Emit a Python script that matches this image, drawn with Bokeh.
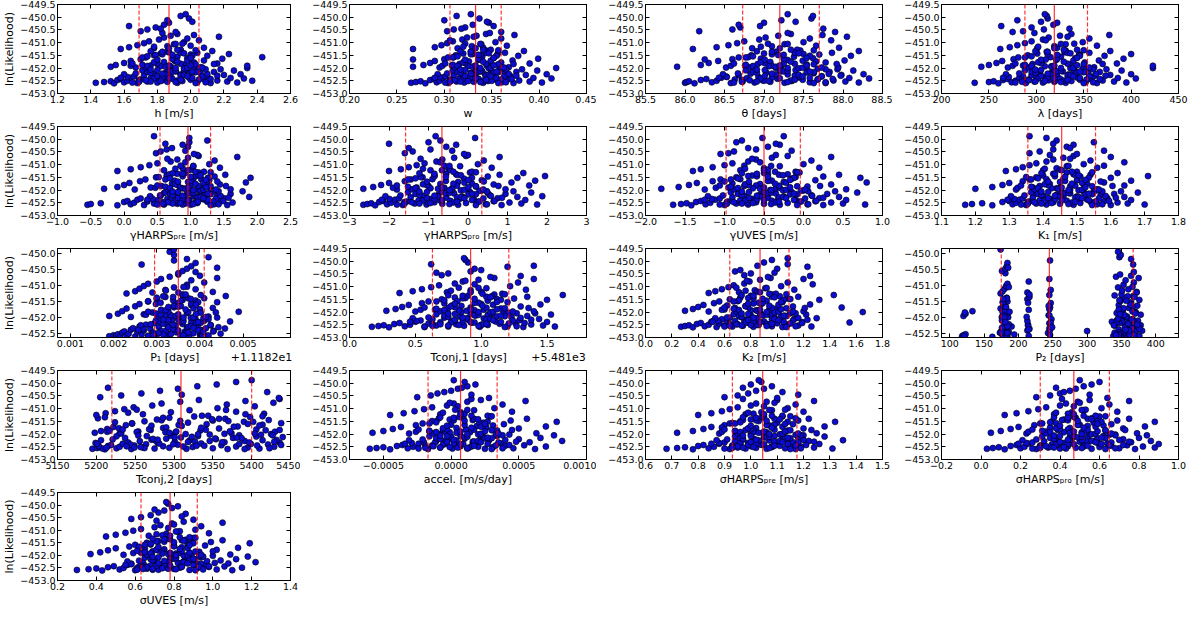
from bokeh.plotting import figure
from bokeh.layouts import column, row
from bokeh.models import (FixedTicker, CustomJSTickFormatter, Span, LinearAxis, Range1d)
from bokeh.embed import file_html
from bokeh.resources import INLINE

# ---------------- data (one shared ln(L) per MCMC sample) ----------------
lnL = [
    -452.58, -452.55, -452.52, -452.60, -452.47, -452.43, -452.56, -452.50, -452.38, -452.33,
    -452.59, -452.45, -452.28, -452.53, -452.40, -452.22, -452.57, -452.35, -452.48, -452.18,
    -452.54, -452.30, -452.42, -452.13, -452.58, -452.25, -452.51, -452.08, -452.37, -452.46,
    -452.02, -452.56, -452.20, -452.44, -452.32, -452.59, -452.15, -452.49, -452.05, -452.27,
    -452.53, -452.39, -452.10, -452.57, -452.24, -452.41, -452.00, -452.50, -452.34, -452.12,
    -451.95, -451.88, -451.80, -451.72, -451.98, -451.65, -451.58, -451.90, -451.50, -451.84,
    -451.43, -451.76, -451.36, -451.93, -451.68, -451.55, -451.31, -451.86, -451.61, -451.47,
    -451.78, -451.40, -451.97, -451.70, -451.52, -451.33, -451.82, -451.63, -451.45, -451.91,
    -451.57, -451.38, -451.74, -451.49, -451.66,
    -451.25, -451.18, -451.10, -451.02, -450.95, -451.22, -450.88, -450.80, -451.14, -450.73,
    -451.06, -450.66, -451.28, -450.98, -450.84, -451.12, -450.70, -450.91, -451.20, -450.77,
    -450.62, -451.04,
    -450.55, -450.48, -450.40, -450.30, -450.22, -450.12, -450.05, -449.95, -449.88, -450.35,
    -450.58, -450.18, -450.45,
    -452.57, -452.49, -452.41, -452.33, -452.25, -452.17, -452.09, -452.01, -451.93, -451.85,
    -452.55, -452.47, -452.39, -452.31, -452.23, -452.15, -452.07, -451.99, -451.91, -451.83,
    -452.53, -452.45, -452.37, -452.29, -452.21, -452.13, -452.05, -451.97, -451.89, -451.81,
    -452.59, -452.51, -452.43, -452.35, -452.27, -452.19, -452.11, -452.03, -451.95, -451.87,
    -451.77, -451.71, -451.64, -451.58, -451.52, -451.46, -451.40, -451.34, -451.28, -451.22,
    -452.56, -452.48, -452.40, -452.32, -452.24, -452.16, -452.08, -452.00, -451.92, -451.84,
    -451.75, -451.67, -451.60, -451.54, -451.48, -451.42, -451.36, -451.30, -451.16, -451.05,
    -452.54, -452.46, -452.38, -452.30, -452.22, -452.14, -452.06, -451.98, -451.90, -451.82,
]

h_ms = [
    1.43, 1.48, 1.52, 1.54, 1.56, 1.58, 1.60, 1.62, 1.64, 1.66,
    1.68, 1.70, 1.72, 1.74, 1.76, 1.78, 1.80, 1.81, 1.83, 1.85,
    1.86, 1.88, 1.89, 1.91, 1.92, 1.94, 1.95, 1.97, 1.99, 2.00,
    2.02, 2.04, 2.06, 2.08, 2.10, 2.12, 2.14, 2.16, 2.18, 2.20,
    2.22, 2.24, 2.26, 2.28, 2.30, 2.32, 2.34, 2.37, 1.84, 1.96,
    1.52, 1.55, 1.60, 1.64, 1.67, 1.70, 1.73, 1.76, 1.78, 1.80,
    1.82, 1.84, 1.86, 1.88, 1.90, 1.92, 1.94, 1.96, 1.98, 2.00,
    2.02, 2.04, 2.06, 2.08, 2.10, 2.13, 2.16, 2.19, 2.23, 2.34,
    2.43, 1.87, 1.91, 1.79, 1.99,
    1.58, 1.63, 1.68, 1.72, 1.75, 1.78, 1.81, 1.84, 1.86, 1.88,
    1.90, 1.92, 1.94, 1.96, 1.98, 2.00, 2.02, 2.05, 2.08, 2.17,
    1.83, 1.95,
    1.70, 1.74, 1.79, 1.84, 1.87, 1.86, 1.99, 1.94, 1.97, 1.63, 1.91, 2.01, 1.82,
    1.65, 1.92, 1.78, 2.07, 1.85, 2.00, 1.71, 1.96, 1.82, 2.03,
    1.91, 1.69, 2.01, 1.80, 2.10, 1.74, 1.87, 1.98, 1.64, 1.94,
    1.76, 2.05, 1.83, 1.94, 1.67, 1.89, 2.09, 1.73, 2.00, 1.80,
    2.03, 1.82, 2.12, 1.62, 1.96, 1.76, 1.91, 2.05, 1.85, 1.71,
    1.78, 1.98, 1.89, 1.71, 2.01, 1.83, 1.94, 1.76, 1.92, 1.87,
    2.09, 1.73, 1.87, 1.98, 1.60, 2.03, 1.80, 1.91, 1.74, 2.14,
    1.92, 1.80, 2.00, 1.74, 1.89, 1.96, 1.83, 2.03, 1.78, 1.91,
    1.69, 1.94, 1.58, 2.16, 1.83, 2.01, 1.76, 2.07, 1.87, 1.65,
]
w_vals = [
    0.265, 0.270, 0.275, 0.280, 0.285, 0.289, 0.292, 0.295, 0.298, 0.301,
    0.304, 0.307, 0.310, 0.313, 0.316, 0.318, 0.321, 0.323, 0.326, 0.328,
    0.331, 0.333, 0.336, 0.338, 0.341, 0.343, 0.346, 0.349, 0.352, 0.355,
    0.358, 0.361, 0.364, 0.367, 0.370, 0.373, 0.376, 0.379, 0.382, 0.386,
    0.390, 0.394, 0.398, 0.403, 0.408, 0.413, 0.418, 0.350, 0.320, 0.340,
    0.267, 0.278, 0.285, 0.290, 0.295, 0.300, 0.304, 0.308, 0.312, 0.316,
    0.320, 0.324, 0.328, 0.332, 0.336, 0.340, 0.344, 0.348, 0.352, 0.356,
    0.360, 0.364, 0.368, 0.372, 0.378, 0.384, 0.390, 0.399, 0.330, 0.345,
    0.310, 0.357, 0.326, 0.338, 0.267,
    0.267, 0.290, 0.297, 0.303, 0.309, 0.314, 0.319, 0.324, 0.329, 0.334,
    0.339, 0.344, 0.349, 0.354, 0.360, 0.366, 0.374, 0.306, 0.341, 0.331,
    0.348, 0.322,
    0.303, 0.310, 0.322, 0.330, 0.347, 0.300, 0.337, 0.313, 0.328, 0.352, 0.360, 0.345, 0.318,
    0.301, 0.341, 0.320, 0.363, 0.330, 0.352, 0.309, 0.347, 0.325, 0.357,
    0.338, 0.306, 0.355, 0.322, 0.368, 0.314, 0.333, 0.349, 0.298, 0.344,
    0.317, 0.360, 0.328, 0.344, 0.303, 0.336, 0.365, 0.311, 0.352, 0.322,
    0.357, 0.325, 0.371, 0.295, 0.347, 0.317, 0.338, 0.360, 0.330, 0.309,
    0.320, 0.349, 0.336, 0.309, 0.355, 0.328, 0.344, 0.317, 0.341, 0.333,
    0.365, 0.311, 0.333, 0.349, 0.293, 0.357, 0.322, 0.338, 0.314, 0.373,
    0.341, 0.322, 0.352, 0.314, 0.336, 0.347, 0.328, 0.357, 0.320, 0.338,
    0.306, 0.344, 0.290, 0.376, 0.328, 0.355, 0.317, 0.363, 0.333, 0.301,
]
theta_days = [
    86.00, 86.02, 86.05, 86.12, 86.20, 86.27, 86.34, 86.40, 86.46, 86.52,
    86.58, 86.63, 86.68, 86.73, 86.78, 86.83, 86.88, 86.93, 86.98, 87.03,
    87.08, 87.12, 87.17, 87.21, 87.26, 87.30, 87.35, 87.40, 87.44, 87.49,
    87.54, 87.58, 87.63, 87.68, 87.73, 87.78, 87.83, 87.88, 87.93, 87.98,
    88.03, 88.08, 88.13, 88.20, 88.26, 88.33, 87.15, 87.00, 87.45, 86.90,
    85.90, 86.20, 86.30, 86.42, 86.52, 86.60, 86.68, 86.76, 86.84, 86.92,
    87.00, 87.08, 87.15, 87.22, 87.30, 87.38, 87.46, 87.54, 87.62, 87.70,
    87.78, 87.86, 87.94, 88.02, 88.10, 88.20, 87.25, 86.96, 87.50, 87.10,
    86.80, 87.40, 87.66, 87.18, 86.25,
    86.10, 86.40, 86.55, 86.66, 86.75, 86.85, 86.94, 87.02, 87.10, 87.18,
    87.26, 87.34, 87.42, 87.50, 87.58, 87.66, 87.74, 87.85, 87.95, 88.05,
    87.30, 87.05,
    86.18, 86.60, 86.70, 86.68, 87.00, 87.22, 87.60, 87.62, 87.30, 86.95, 87.90, 87.40, 87.75,
    86.62, 87.34, 86.96, 87.73, 87.15, 87.54, 86.77, 87.44, 87.06, 87.63,
    87.30, 86.72, 87.58, 87.01, 87.82, 86.86, 87.20, 87.49, 86.58, 87.39,
    86.91, 87.68, 87.10, 87.39, 86.67, 87.25, 87.78, 86.82, 87.54, 87.01,
    87.63, 87.06, 87.87, 86.53, 87.44, 86.91, 87.30, 87.68, 87.15, 86.77,
    86.96, 87.49, 87.25, 86.77, 87.58, 87.10, 87.39, 86.91, 87.34, 87.20,
    87.78, 86.82, 87.20, 87.49, 86.48, 87.63, 87.01, 87.30, 86.86, 87.92,
    87.34, 87.01, 87.54, 86.86, 87.25, 87.44, 87.10, 87.63, 86.96, 87.30,
    86.72, 87.39, 86.43, 87.97, 87.10, 87.58, 86.91, 87.73, 87.20, 86.62,
]
lambda_days = [
    235, 250, 255, 260, 265, 270, 274, 278, 282, 286,
    289, 292, 295, 298, 301, 304, 307, 310, 313, 316,
    319, 322, 325, 328, 331, 334, 337, 340, 343, 346,
    349, 352, 355, 358, 361, 364, 367, 370, 374, 378,
    382, 386, 390, 395, 400, 405, 423, 320, 300, 340,
    242, 250, 258, 264, 270, 276, 281, 286, 291, 296,
    301, 306, 311, 316, 321, 326, 331, 336, 341, 346,
    351, 356, 361, 366, 372, 378, 385, 392, 400, 423,
    315, 330, 305, 345, 310,
    262, 272, 280, 288, 295, 301, 307, 313, 319, 325,
    331, 337, 343, 349, 356, 364, 377, 310, 322, 333,
    298, 340,
    286, 308, 295, 318, 322, 280, 312, 311, 309, 263, 275, 305, 335,
    278, 329, 302, 356, 316, 343, 288, 336, 309, 350,
    326, 285, 346, 305, 363, 295, 319, 339, 275, 333,
    299, 353, 312, 333, 282, 322, 360, 292, 343, 305,
    350, 309, 367, 271, 336, 299, 326, 353, 316, 288,
    302, 339, 322, 288, 346, 312, 333, 299, 329, 319,
    360, 292, 319, 339, 268, 350, 305, 326, 295, 370,
    329, 305, 343, 295, 322, 336, 312, 350, 302, 326,
    285, 333, 265, 373, 312, 346, 299, 356, 319, 278,
]
gamma_harps_pre = [
    -0.55, -0.50, -0.35, -0.10, 0.00, 0.05, 0.10, 0.15, 0.20, 0.25,
    0.30, 0.35, 0.40, 0.45, 0.50, 0.55, 0.60, 0.65, 0.70, 0.75,
    0.80, 0.85, 0.90, 0.95, 1.00, 1.05, 1.10, 1.15, 1.20, 1.25,
    1.30, 1.35, 1.40, 1.45, 1.50, 1.55, 1.60, 1.63, 1.78, 1.88,
    0.92, 0.98, 1.02, 0.88, 1.08, 0.70, 1.12, 0.82, 1.18, 0.60,
    -0.30, -0.10, 0.00, 0.08, 0.16, 0.24, 0.32, 0.40, 0.48, 0.56,
    0.64, 0.72, 0.80, 0.88, 0.96, 1.04, 1.12, 1.20, 1.28, 1.36,
    1.44, 1.52, 1.60, 1.83, 1.90, 0.92, 1.00, 0.76, 1.08, 0.84,
    1.16, 0.68, 1.24, 0.52, 1.40,
    -0.10, 0.10, 0.25, 0.38, 0.50, 0.60, 0.70, 0.80, 0.88, 0.96,
    1.04, 1.12, 1.20, 1.28, 1.36, 1.44, 1.70, 0.92, 1.00, 0.65,
    1.10, 0.85,
    0.48, 0.55, 0.64, 0.96, 0.88, 0.98, 1.25, 0.98, 0.45, 0.72, 1.05, 0.62, 0.92,
    0.50, 1.07, 0.77, 1.38, 0.92, 1.23, 0.62, 1.15, 0.85, 1.30,
    1.04, 0.58, 1.26, 0.81, 1.45, 0.69, 0.96, 1.19, 0.47, 1.11,
    0.73, 1.34, 0.88, 1.11, 0.54, 1.00, 1.42, 0.66, 1.23, 0.81,
    1.30, 0.85, 1.49, 0.43, 1.15, 0.73, 1.04, 1.34, 0.92, 0.62,
    0.77, 1.19, 1.00, 0.62, 1.26, 0.88, 1.11, 0.73, 1.07, 0.96,
    1.42, 0.66, 0.96, 1.19, 0.39, 1.30, 0.81, 1.04, 0.69, 1.53,
    1.07, 0.81, 1.23, 0.69, 1.00, 1.15, 0.88, 1.30, 0.77, 1.04,
    0.58, 1.11, 0.35, 1.57, 0.88, 1.26, 0.73, 1.38, 0.96, 0.50,
]
gamma_harps_pro = [
    -2.65, -2.55, -2.45, -2.35, -2.25, -2.15, -2.05, -1.95, -1.85, -1.75,
    -1.65, -1.55, -1.45, -1.35, -1.25, -1.15, -1.05, -0.95, -0.85, -0.75,
    -0.65, -0.55, -0.45, -0.35, -0.25, -0.15, -0.05, 0.05, 0.15, 0.25,
    0.35, 0.45, 0.55, 0.65, 0.75, 0.85, 0.95, 1.05, 1.15, 1.25,
    1.35, 1.45, 1.60, 1.75, 1.88, -0.70, -0.40, -1.00, -0.20, 0.50,
    -2.65, -2.40, -2.20, -2.00, -1.80, -1.60, -1.45, -1.30, -1.15, -1.00,
    -0.85, -0.70, -0.55, -0.40, -0.25, -0.10, 0.05, 0.20, 0.35, 0.50,
    0.65, 0.80, 0.95, 1.10, 1.25, 1.40, 1.55, 1.70, 1.95, -0.60,
    -0.90, -0.30, 0.10, -1.20, 0.40,
    -2.00, -1.70, -1.50, -1.30, -1.10, -0.95, -0.80, -0.65, -0.50, -0.35,
    -0.20, -0.05, 0.10, 0.25, 0.40, 0.60, 0.80, -0.70, -0.45, -1.20,
    0.00, -0.60,
    -1.60, -1.40, -0.95, -0.55, -0.30, -1.00, -0.70, 0.18, -0.82, -1.50, -0.10, -2.00, -0.40,
    -1.80, -0.37, -1.14, 0.39, -0.76, 0.01, -1.52, -0.18, -0.95, 0.20,
    -0.47, -1.61, 0.10, -1.04, 0.58, -1.33, -0.66, -0.09, -1.90, -0.28,
    -1.23, 0.29, -0.85, -0.28, -1.71, -0.56, 0.48, -1.42, 0.01, -1.04,
    0.20, -0.95, 0.67, -1.99, -0.18, -1.23, -0.47, 0.29, -0.76, -1.52,
    -1.14, -0.09, -0.56, -1.52, 0.10, -0.85, -0.28, -1.23, -0.37, -0.66,
    0.48, -1.42, -0.66, -0.09, -2.09, 0.20, -1.04, -0.47, -1.33, 0.77,
    -0.37, -1.04, 0.01, -1.33, -0.56, -0.18, -0.85, 0.20, -1.14, -0.47,
    -1.61, -0.28, -2.18, 0.86, -0.85, 0.10, -1.23, 0.39, -0.66, -1.80,
]
gamma_uves = [
    -1.65, -1.55, -1.48, -1.42, -1.36, -1.30, -1.24, -1.18, -1.12, -1.06,
    -1.00, -0.95, -0.90, -0.85, -0.80, -0.75, -0.70, -0.65, -0.60, -0.55,
    -0.50, -0.45, -0.40, -0.35, -0.30, -0.25, -0.20, -0.15, -0.10, -0.05,
    0.00, 0.05, 0.10, 0.15, 0.20, 0.25, 0.30, 0.35, 0.40, 0.45,
    0.50, 0.54, 0.68, 0.78, -0.52, -0.62, -0.42, -0.72, -0.32, -0.82,
    -1.80, -1.58, -1.45, -1.35, -1.25, -1.15, -1.05, -0.95, -0.85, -0.75,
    -0.65, -0.55, -0.45, -0.35, -0.25, -0.15, -0.05, 0.05, 0.15, 0.25,
    0.35, 0.45, 0.54, 0.80, 0.72, -0.50, -0.60, -0.40, -0.70, -0.30,
    -0.80, -0.20, -0.90, -0.10, -1.00,
    -1.40, -1.30, -1.15, -1.00, -0.90, -0.80, -0.70, -0.60, -0.50, -0.40,
    -0.30, -0.20, -0.10, 0.00, 0.10, 0.20, 0.35, -0.55, -0.45, -0.65,
    -0.35, -0.75,
    -0.95, -0.88, -0.60, -0.45, -0.30, -0.85, -0.78, -0.52, -0.25, -0.70, -1.05, -0.35, -0.15,
    -1.06, -0.36, -0.74, 0.02, -0.55, -0.17, -0.92, -0.26, -0.64, -0.08,
    -0.41, -0.97, -0.12, -0.69, 0.11, -0.83, -0.50, -0.22, -1.11, -0.31,
    -0.78, -0.03, -0.59, -0.31, -1.02, -0.45, 0.06, -0.88, -0.17, -0.69,
    -0.08, -0.64, 0.16, -1.16, -0.26, -0.78, -0.41, -0.03, -0.55, -0.92,
    -0.74, -0.22, -0.45, -0.92, -0.12, -0.59, -0.31, -0.78, -0.36, -0.50,
    0.06, -0.88, -0.50, -0.22, -1.21, -0.08, -0.69, -0.41, -0.83, 0.21,
    -0.36, -0.69, -0.17, -0.83, -0.45, -0.26, -0.59, -0.08, -0.74, -0.41,
    -0.97, -0.31, -1.25, 0.25, -0.59, -0.12, -0.78, 0.02, -0.50, -1.06,
]
k1_ms = [
    1.17, 1.19, 1.22, 1.25, 1.28, 1.30, 1.31, 1.32, 1.33, 1.34,
    1.35, 1.36, 1.37, 1.38, 1.39, 1.40, 1.41, 1.42, 1.43, 1.44,
    1.45, 1.46, 1.47, 1.48, 1.49, 1.50, 1.51, 1.52, 1.53, 1.54,
    1.55, 1.56, 1.57, 1.58, 1.59, 1.60, 1.61, 1.62, 1.63, 1.64,
    1.65, 1.66, 1.68, 1.70, 1.45, 1.42, 1.48, 1.40, 1.50, 1.38,
    1.20, 1.25, 1.28, 1.30, 1.32, 1.34, 1.36, 1.37, 1.38, 1.39,
    1.40, 1.42, 1.43, 1.44, 1.45, 1.46, 1.47, 1.48, 1.50, 1.51,
    1.52, 1.54, 1.56, 1.58, 1.60, 1.62, 1.64, 1.66, 1.71, 1.45,
    1.41, 1.49, 1.53, 1.35, 1.57,
    1.29, 1.32, 1.34, 1.36, 1.38, 1.40, 1.41, 1.43, 1.44, 1.46,
    1.47, 1.49, 1.50, 1.52, 1.54, 1.56, 1.60, 1.64, 1.45, 1.48,
    1.42, 1.58,
    1.36, 1.39, 1.43, 1.47, 1.49, 1.55, 1.44, 1.41, 1.36, 1.48, 1.50, 1.43, 1.58,
    1.335, 1.485, 1.405, 1.565, 1.445, 1.525, 1.365, 1.505, 1.425, 1.545,
    1.475, 1.355, 1.535, 1.415, 1.585, 1.385, 1.455, 1.515, 1.325, 1.495,
    1.395, 1.555, 1.435, 1.495, 1.345, 1.465, 1.575, 1.375, 1.525, 1.415,
    1.545, 1.425, 1.595, 1.315, 1.505, 1.395, 1.475, 1.555, 1.445, 1.365,
    1.405, 1.515, 1.465, 1.365, 1.535, 1.435, 1.495, 1.395, 1.485, 1.455,
    1.575, 1.375, 1.455, 1.515, 1.305, 1.545, 1.415, 1.475, 1.385, 1.605,
    1.485, 1.415, 1.525, 1.385, 1.465, 1.505, 1.435, 1.545, 1.405, 1.475,
    1.355, 1.495, 1.295, 1.615, 1.435, 1.535, 1.395, 1.565, 1.455, 1.335,
]
p1_minus_offset = [
    0.00190, 0.00200, 0.00210, 0.00215, 0.00220, 0.00225, 0.00230, 0.00235, 0.00240, 0.00245,
    0.00250, 0.00255, 0.00260, 0.00265, 0.00270, 0.00275, 0.00280, 0.00285, 0.00290, 0.00295,
    0.00300, 0.00305, 0.00310, 0.00315, 0.00320, 0.00325, 0.00330, 0.00335, 0.00340, 0.00345,
    0.00350, 0.00355, 0.00360, 0.00365, 0.00370, 0.00375, 0.00380, 0.00385, 0.00390, 0.00395,
    0.00400, 0.00405, 0.00410, 0.00418, 0.00425, 0.00432, 0.00440, 0.00448, 0.00458, 0.00470,
    0.00190, 0.00210, 0.00220, 0.00230, 0.00240, 0.00250, 0.00260, 0.00270, 0.00280, 0.00290,
    0.00300, 0.00310, 0.00320, 0.00330, 0.00340, 0.00350, 0.00360, 0.00370, 0.00380, 0.00390,
    0.00400, 0.00410, 0.00420, 0.00430, 0.00440, 0.00460, 0.00490, 0.00340, 0.00360, 0.00320,
    0.00380, 0.00300, 0.00400, 0.00280, 0.00350,
    0.00230, 0.00250, 0.00260, 0.00270, 0.00280, 0.00290, 0.00300, 0.00310, 0.00320, 0.00330,
    0.00340, 0.00350, 0.00360, 0.00370, 0.00380, 0.00390, 0.00400, 0.00410, 0.00430, 0.00440,
    0.00350, 0.00370,
    0.00360, 0.00370, 0.00380, 0.00390, 0.00340, 0.00420, 0.00340, 0.00330, 0.00340, 0.00265,
    0.00390, 0.00370, 0.00440,
    0.00280, 0.00367, 0.00321, 0.00414, 0.00344, 0.00391, 0.00298, 0.00379, 0.00333, 0.00402,
    0.00362, 0.00292, 0.00396, 0.00327, 0.00425, 0.00309, 0.00350, 0.00385, 0.00275, 0.00373,
    0.00315, 0.00408, 0.00338, 0.00373, 0.00286, 0.00356, 0.00420, 0.00304, 0.00391, 0.00327,
    0.00402, 0.00333, 0.00431, 0.00269, 0.00379, 0.00315, 0.00362, 0.00408, 0.00344, 0.00298,
    0.00321, 0.00385, 0.00356, 0.00298, 0.00396, 0.00338, 0.00373, 0.00315, 0.00367, 0.00350,
    0.00420, 0.00304, 0.00350, 0.00385, 0.00263, 0.00402, 0.00327, 0.00362, 0.00309, 0.00437,
    0.00367, 0.00327, 0.00391, 0.00309, 0.00356, 0.00379, 0.00338, 0.00402, 0.00321, 0.00362,
    0.00292, 0.00373, 0.00257, 0.00443, 0.00338, 0.00396, 0.00315, 0.00414, 0.00350, 0.00280,
]
tconj1_minus_offset = [
    0.17, 0.22, 0.26, 0.30, 0.34, 0.38, 0.42, 0.46, 0.50, 0.54,
    0.57, 0.60, 0.63, 0.66, 0.69, 0.72, 0.75, 0.78, 0.81, 0.84,
    0.87, 0.90, 0.93, 0.96, 0.99, 1.02, 1.05, 1.08, 1.11, 1.14,
    1.17, 1.20, 1.23, 1.26, 1.29, 1.32, 1.35, 1.38, 1.41, 1.44,
    1.47, 1.50, 1.53, 1.56, 0.90, 0.95, 0.85, 1.00, 0.80, 1.05,
    0.28, 0.35, 0.40, 0.45, 0.50, 0.55, 0.60, 0.65, 0.70, 0.75,
    0.80, 0.85, 0.90, 0.95, 1.00, 1.05, 1.10, 1.15, 1.20, 1.25,
    1.30, 1.35, 1.40, 1.45, 1.50, 1.62, 0.92, 0.98, 0.88, 1.02,
    0.82, 1.08, 0.78, 1.12, 0.72,
    0.38, 0.48, 0.55, 0.62, 0.68, 0.74, 0.80, 0.86, 0.92, 0.98,
    1.04, 1.10, 1.16, 1.22, 1.28, 1.34, 1.40, 0.95, 1.00, 0.88,
    1.07, 0.83,
    0.70, 0.75, 0.92, 0.95, 1.20, 0.62, 0.90, 0.88, 0.87, 1.00, 1.30, 1.40, 0.66,
    0.57, 1.01, 0.77, 1.24, 0.89, 1.12, 0.66, 1.07, 0.83, 1.18,
    0.98, 0.63, 1.15, 0.80, 1.30, 0.72, 0.92, 1.09, 0.54, 1.04,
    0.75, 1.21, 0.86, 1.04, 0.60, 0.95, 1.27, 0.69, 1.12, 0.80,
    1.18, 0.83, 1.33, 0.51, 1.07, 0.75, 0.98, 1.21, 0.89, 0.66,
    0.77, 1.09, 0.95, 0.66, 1.15, 0.86, 1.04, 0.75, 1.01, 0.92,
    1.27, 0.69, 0.92, 1.09, 0.48, 1.18, 0.80, 0.98, 0.72, 1.36,
    1.01, 0.80, 1.12, 0.72, 0.95, 1.07, 0.86, 1.18, 0.77, 0.98,
    0.63, 1.04, 0.46, 1.38, 0.86, 1.15, 0.75, 1.24, 0.92, 0.57,
]
k2_ms = [
    0.27, 0.30, 0.33, 0.36, 0.39, 0.42, 0.45, 0.48, 0.50, 0.52,
    0.54, 0.56, 0.58, 0.60, 0.62, 0.64, 0.66, 0.68, 0.70, 0.72,
    0.74, 0.76, 0.78, 0.80, 0.82, 0.84, 0.86, 0.88, 0.90, 0.92,
    0.94, 0.96, 0.98, 1.00, 1.02, 1.04, 1.06, 1.08, 1.10, 1.13,
    1.16, 1.19, 1.22, 1.26, 1.30, 1.55, 1.65, 0.85, 0.75, 0.95,
    0.30, 0.36, 0.40, 0.44, 0.48, 0.52, 0.56, 0.60, 0.64, 0.68,
    0.72, 0.76, 0.80, 0.84, 0.88, 0.92, 0.96, 1.00, 1.04, 1.08,
    1.12, 1.16, 1.20, 1.25, 1.32, 1.43, 1.49, 0.86, 0.78, 0.94,
    0.70, 1.02, 0.62, 1.10, 0.82,
    0.48, 0.53, 0.58, 0.63, 0.67, 0.71, 0.75, 0.79, 0.83, 0.87,
    0.91, 0.95, 0.99, 1.03, 1.08, 1.13, 1.20, 1.27, 0.85, 0.77,
    0.93, 0.69,
    0.75, 0.80, 0.68, 1.00, 1.23, 1.08, 0.90, 0.96, 1.08, 0.72, 1.25, 0.85, 0.98,
    0.60, 0.94, 0.76, 1.12, 0.85, 1.03, 0.67, 0.98, 0.80, 1.07,
    0.92, 0.64, 1.05, 0.78, 1.16, 0.71, 0.87, 1.01, 0.58, 0.96,
    0.73, 1.10, 0.82, 0.96, 0.62, 0.89, 1.14, 0.69, 1.03, 0.78,
    1.07, 0.80, 1.19, 0.55, 0.98, 0.73, 0.92, 1.10, 0.85, 0.67,
    0.76, 1.01, 0.89, 0.67, 1.05, 0.82, 0.96, 0.73, 0.94, 0.87,
    1.14, 0.69, 0.87, 1.01, 0.53, 1.07, 0.78, 0.92, 0.71, 1.21,
    0.94, 0.78, 1.03, 0.71, 0.89, 0.98, 0.82, 1.07, 0.76, 0.92,
    0.64, 0.96, 0.51, 1.23, 0.82, 1.05, 0.73, 1.12, 0.87, 0.60,
]
p2_days = [
    118, 120, 123, 162, 173, 175, 177, 178, 180, 182,
    184, 186, 190, 194, 213, 214, 215, 216, 243, 245,
    246, 248, 300, 336, 338, 340, 342, 344, 346, 348,
    350, 352, 354, 356, 358, 360, 362, 364, 366, 368,
    370, 372, 374, 376, 378, 380, 176, 181, 245, 351,
    120, 123, 133, 174, 176, 178, 180, 182, 184, 185,
    213, 215, 216, 244, 246, 247, 340, 343, 346, 349,
    352, 355, 358, 361, 364, 367, 370, 373, 376, 378,
    179, 183, 245, 348, 366,
    174, 177, 180, 182, 184, 213, 215, 245, 247, 342,
    345, 348, 350, 353, 356, 360, 364, 368, 372, 375,
    181, 366,
    176, 181, 183, 184, 246, 347, 349, 345, 174, 367, 368, 364, 185,
    178, 352, 181, 365, 214, 347, 176, 358, 245, 371,
    183, 340, 246, 355, 179, 368, 344, 185, 350, 177,
    362, 180, 215, 374, 186, 343, 248, 357, 182, 366,
    121, 349, 175, 376, 184, 360, 213, 345, 179, 370,
    181, 353, 244, 364, 177, 347, 183, 359, 216, 372,
    348, 184, 361, 176, 339, 247, 367, 180, 354, 122,
    346, 182, 363, 214, 357, 178, 369, 245, 351, 186,
    342, 175, 356, 249, 373, 181, 365, 212, 348, 187,
]
tconj2_days = [
    5195, 5201, 5204, 5211, 5215, 5219, 5226, 5230, 5234, 5241,
    5245, 5249, 5256, 5260, 5264, 5271, 5275, 5279, 5286, 5290,
    5294, 5301, 5305, 5309, 5316, 5320, 5324, 5331, 5335, 5339,
    5346, 5350, 5354, 5361, 5365, 5369, 5376, 5380, 5384, 5391,
    5395, 5399, 5406, 5410, 5414, 5421, 5425, 5429, 5436, 5440,
    5198, 5206, 5214, 5222, 5230, 5238, 5246, 5254, 5262, 5270,
    5278, 5286, 5294, 5302, 5310, 5318, 5326, 5334, 5342, 5350,
    5358, 5366, 5374, 5382, 5390, 5398, 5406, 5414, 5422, 5430,
    5438, 5202, 5290, 5370, 5410,
    5200, 5212, 5224, 5236, 5248, 5260, 5272, 5284, 5296, 5308,
    5320, 5332, 5344, 5356, 5368, 5380, 5392, 5404, 5416, 5428,
    5436, 5252,
    5205, 5232, 5258, 5282, 5305, 5330, 5355, 5380, 5400, 5420, 5435, 5215, 5310,
    5208, 5312, 5244, 5397, 5276, 5353, 5226, 5331, 5289, 5418,
    5262, 5203, 5384, 5318, 5432, 5237, 5296, 5365, 5214, 5341,
    5249, 5407, 5281, 5327, 5221, 5301, 5427, 5232, 5372, 5268,
    5391, 5257, 5438, 5199, 5346, 5273, 5323, 5412, 5294, 5217,
    5229, 5377, 5306, 5246, 5402, 5284, 5358, 5211, 5336, 5392,
    5423, 5239, 5299, 5362, 5206, 5387, 5265, 5315, 5252, 5436,
    5335, 5271, 5395, 5224, 5308, 5349, 5286, 5414, 5241, 5367,
    5213, 5329, 5201, 5429, 5279, 5381, 5254, 5404, 5303, 5234,
]
accel_ms_day = [
    -0.00060, -0.00055, -0.00050, -0.00045, -0.00040, -0.00036, -0.00032, -0.00028, -0.00024, -0.00020,
    -0.00017, -0.00014, -0.00011, -0.00008, -0.00005, -0.00002, 0.00001, 0.00004, 0.00007, 0.00010,
    0.00013, 0.00016, 0.00019, 0.00022, 0.00025, 0.00028, 0.00031, 0.00034, 0.00037, 0.00040,
    0.00043, 0.00046, 0.00050, 0.00054, 0.00058, 0.00062, 0.00066, 0.00070, 0.00076, 0.00082,
    0.00005, 0.00009, 0.00000, 0.00012, -0.00004, 0.00016, -0.00008, 0.00020, -0.00012, 0.00024,
    -0.00058, -0.00050, -0.00043, -0.00037, -0.00031, -0.00026, -0.00021, -0.00016, -0.00011, -0.00006,
    -0.00001, 0.00004, 0.00009, 0.00014, 0.00019, 0.00024, 0.00029, 0.00034, 0.00039, 0.00044,
    0.00050, 0.00056, 0.00063, 0.00070, 0.00078, 0.00006, 0.00011, 0.00000, 0.00016, -0.00004,
    0.00021, -0.00009, 0.00026, -0.00014, 0.00031,
    -0.00045, -0.00035, -0.00027, -0.00020, -0.00014, -0.00008, -0.00003, 0.00002, 0.00007, 0.00012,
    0.00017, 0.00022, 0.00027, 0.00032, 0.00038, 0.00045, 0.00055, 0.00005, 0.00010, -0.00001,
    0.00015, 0.00003,
    -0.00025, -0.00015, -0.00010, 0.00000, 0.00005, 0.00012, 0.00018, 0.00010, 0.00002, -0.00005,
    0.00028, 0.00008, 0.00015,
    -0.00024, 0.00015, -0.00006, 0.00035, 0.00004, 0.00025, -0.00016, 0.00020, -0.00001, 0.00030,
    0.00012, -0.00019, 0.00027, -0.00003, 0.00040, -0.00011, 0.00007, 0.00022, -0.00026, 0.00017,
    -0.00008, 0.00033, 0.00002, 0.00017, -0.00021, 0.00010, 0.00038, -0.00013, 0.00025, -0.00003,
    0.00030, -0.00001, 0.00043, -0.00029, 0.00020, -0.00008, 0.00012, 0.00033, 0.00004, -0.00016,
    -0.00006, 0.00022, 0.00010, -0.00016, 0.00027, 0.00002, 0.00017, -0.00008, 0.00015, 0.00007,
    0.00038, -0.00013, 0.00007, 0.00022, -0.00031, 0.00030, -0.00003, 0.00012, -0.00011, 0.00045,
    0.00015, -0.00003, 0.00025, -0.00011, 0.00010, 0.00020, 0.00002, 0.00030, -0.00006, 0.00012,
    -0.00019, 0.00017, -0.00034, 0.00048, 0.00002, 0.00027, -0.00008, 0.00035, 0.00007, -0.00024,
]
sigma_harps_pre = [
    0.68, 0.72, 0.75, 0.78, 0.80, 0.82, 0.84, 0.86, 0.88, 0.90,
    0.92, 0.93, 0.94, 0.95, 0.96, 0.97, 0.98, 0.99, 1.00, 1.01,
    1.02, 1.03, 1.04, 1.05, 1.06, 1.07, 1.08, 1.09, 1.10, 1.11,
    1.12, 1.13, 1.14, 1.15, 1.16, 1.17, 1.18, 1.19, 1.20, 1.22,
    1.24, 1.26, 1.28, 1.31, 1.35, 1.04, 1.00, 1.08, 0.96, 1.12,
    0.72, 0.78, 0.82, 0.85, 0.88, 0.90, 0.92, 0.94, 0.96, 0.98,
    1.00, 1.02, 1.04, 1.06, 1.08, 1.10, 1.12, 1.14, 1.16, 1.18,
    1.20, 1.22, 1.25, 1.28, 1.32, 1.05, 1.01, 1.09, 0.97, 1.13,
    0.93, 1.17, 0.89, 1.03, 1.07,
    0.80, 0.85, 0.89, 0.92, 0.95, 0.98, 1.00, 1.02, 1.04, 1.06,
    1.08, 1.10, 1.12, 1.14, 1.17, 1.20, 1.24, 1.05, 1.01, 1.09,
    0.97, 1.13,
    0.90, 0.95, 0.99, 1.02, 1.05, 1.08, 1.00, 1.04, 1.03, 1.12, 1.10, 0.97, 1.18,
    0.90, 1.08, 0.99, 1.18, 1.03, 1.13, 0.94, 1.11, 1.01, 1.15,
    1.07, 0.93, 1.14, 1.00, 1.20, 0.96, 1.05, 1.12, 0.89, 1.09,
    0.97, 1.17, 1.02, 1.09, 0.91, 1.06, 1.19, 0.95, 1.13, 1.00,
    1.15, 1.01, 1.21, 0.88, 1.11, 0.97, 1.07, 1.17, 1.03, 0.94,
    0.99, 1.12, 1.06, 0.94, 1.14, 1.02, 1.09, 0.97, 1.08, 1.05,
    1.19, 0.95, 1.05, 1.12, 0.87, 1.15, 1.00, 1.07, 0.96, 1.23,
    1.08, 1.00, 1.13, 0.96, 1.06, 1.11, 1.02, 1.15, 0.99, 1.07,
    0.93, 1.09, 0.85, 1.24, 1.02, 1.14, 0.97, 1.18, 1.05, 0.90,
]
sigma_harps_pro = [
    0.03, 0.06, 0.09, 0.12, 0.15, 0.18, 0.20, 0.22, 0.24, 0.26,
    0.28, 0.30, 0.32, 0.34, 0.36, 0.38, 0.40, 0.42, 0.44, 0.46,
    0.48, 0.50, 0.52, 0.54, 0.56, 0.58, 0.60, 0.62, 0.64, 0.66,
    0.68, 0.70, 0.72, 0.74, 0.76, 0.78, 0.80, 0.82, 0.84, 0.86,
    0.88, 0.90, 0.47, 0.43, 0.51, 0.39, 0.55, 0.35, 0.59, 0.45,
    0.05, 0.10, 0.15, 0.19, 0.23, 0.27, 0.30, 0.33, 0.36, 0.39,
    0.42, 0.45, 0.48, 0.51, 0.54, 0.57, 0.60, 0.63, 0.66, 0.69,
    0.72, 0.75, 0.79, 0.83, 0.88, 0.47, 0.44, 0.50, 0.41, 0.53,
    0.38, 0.56, 0.35, 0.59, 0.62,
    0.12, 0.18, 0.24, 0.29, 0.33, 0.37, 0.40, 0.43, 0.46, 0.49,
    0.52, 0.55, 0.58, 0.61, 0.65, 0.69, 0.75, 0.47, 0.44, 0.50,
    0.41, 0.53,
    0.28, 0.35, 0.40, 0.45, 0.48, 0.52, 0.56, 0.60, 0.50, 0.42, 0.64, 0.38, 0.55,
    0.26, 0.52, 0.38, 0.66, 0.45, 0.59, 0.31, 0.56, 0.42, 0.63,
    0.51, 0.30, 0.61, 0.40, 0.70, 0.35, 0.47, 0.58, 0.24, 0.54,
    0.37, 0.65, 0.44, 0.54, 0.28, 0.49, 0.68, 0.33, 0.59, 0.40,
    0.63, 0.42, 0.72, 0.23, 0.56, 0.37, 0.51, 0.65, 0.45, 0.31,
    0.38, 0.58, 0.49, 0.31, 0.61, 0.44, 0.54, 0.37, 0.52, 0.47,
    0.68, 0.33, 0.47, 0.58, 0.21, 0.63, 0.40, 0.51, 0.35, 0.73,
    0.52, 0.40, 0.59, 0.35, 0.49, 0.56, 0.44, 0.63, 0.38, 0.51,
    0.30, 0.54, 0.19, 0.75, 0.44, 0.61, 0.37, 0.66, 0.47, 0.26,
]
sigma_uves = [
    0.30, 0.36, 0.40, 0.43, 0.46, 0.49, 0.52, 0.54, 0.56, 0.58,
    0.60, 0.62, 0.64, 0.66, 0.68, 0.70, 0.72, 0.74, 0.76, 0.78,
    0.80, 0.82, 0.84, 0.86, 0.88, 0.90, 0.92, 0.94, 0.96, 0.98,
    1.00, 1.02, 1.04, 1.06, 1.08, 1.10, 1.12, 1.15, 1.18, 1.22,
    0.77, 0.73, 0.81, 0.69, 0.85, 0.65, 0.89, 0.61, 0.93, 0.79,
    0.37, 0.42, 0.46, 0.50, 0.54, 0.57, 0.60, 0.63, 0.66, 0.69,
    0.72, 0.75, 0.78, 0.81, 0.84, 0.87, 0.90, 0.93, 0.96, 0.99,
    1.02, 1.05, 1.09, 1.13, 1.19, 0.77, 0.74, 0.80, 0.71, 0.83,
    0.68, 0.86, 0.65, 0.89, 0.62,
    0.45, 0.50, 0.55, 0.59, 0.63, 0.67, 0.70, 0.73, 0.76, 0.79,
    0.82, 0.85, 0.88, 0.91, 0.94, 0.98, 1.05, 0.77, 0.74, 0.80,
    0.71, 0.83,
    0.58, 0.63, 0.68, 0.72, 0.75, 0.79, 0.82, 0.77, 0.76, 0.86, 0.90, 0.70, 0.84,
    0.61, 0.83, 0.71, 0.94, 0.77, 0.88, 0.65, 0.85, 0.74, 0.91,
    0.81, 0.64, 0.90, 0.72, 0.97, 0.68, 0.78, 0.87, 0.59, 0.84,
    0.69, 0.93, 0.75, 0.84, 0.62, 0.80, 0.95, 0.66, 0.88, 0.72,
    0.91, 0.74, 0.98, 0.58, 0.85, 0.69, 0.81, 0.93, 0.77, 0.65,
    0.71, 0.87, 0.80, 0.65, 0.90, 0.75, 0.84, 0.69, 0.83, 0.78,
    0.95, 0.66, 0.78, 0.87, 0.56, 0.91, 0.72, 0.81, 0.68, 1.00,
    0.83, 0.72, 0.88, 0.68, 0.80, 0.85, 0.75, 0.91, 0.71, 0.81,
    0.64, 0.84, 0.55, 1.01, 0.75, 0.90, 0.69, 0.94, 0.78, 0.61,
]

# axis labels, x ticks and summary lines (-1 sigma, median, +1 sigma)
NB = "\u00a0"
x_labels = ["h [m/s]", "w", "θ [days]", "λ [days]",
            "γHARPSₚᵣₑ [m/s]", "γHARPSₚᵣₒ [m/s]", "γUVES [m/s]", "K₁ [m/s]",
            NB * 27 + "P₁ [days]" + NB * 9 + "+1.1182e1",
            NB * 23 + "Tconj,1 [days]" + NB * 7 + "+5.481e3",
            "K₂ [m/s]", "P₂ [days]",
            "Tconj,2 [days]", "accel. [m/s/day]", "σHARPSₚᵣₑ [m/s]", "σHARPSₚᵣₒ [m/s]",
            "σUVES [m/s]"]
x_series = [h_ms, w_vals, theta_days, lambda_days, gamma_harps_pre, gamma_harps_pro,
            gamma_uves, k1_ms, p1_minus_offset, tconj1_minus_offset, k2_ms, p2_days,
            tconj2_days, accel_ms_day, sigma_harps_pre, sigma_harps_pro, sigma_uves]
x_ticks = [
    [1.2, 1.4, 1.6, 1.8, 2.0, 2.2, 2.4, 2.6],
    [0.20, 0.25, 0.30, 0.35, 0.40, 0.45],
    [85.5, 86.0, 86.5, 87.0, 87.5, 88.0, 88.5],
    [200, 250, 300, 350, 400, 450],
    [-1.0, -0.5, 0.0, 0.5, 1.0, 1.5, 2.0, 2.5],
    [-3, -2, -1, 0, 1, 2, 3],
    [-2.0, -1.5, -1.0, -0.5, 0.0, 0.5, 1.0],
    [1.1, 1.2, 1.3, 1.4, 1.5, 1.6, 1.7, 1.8],
    [0.001, 0.002, 0.003, 0.004, 0.005],
    [0.0, 0.5, 1.0, 1.5],
    [0.0, 0.2, 0.4, 0.6, 0.8, 1.0, 1.2, 1.4, 1.6, 1.8],
    [100, 150, 200, 250, 300, 350, 400],
    [5150, 5200, 5250, 5300, 5350, 5400, 5450],
    [-0.0005, 0.0, 0.0005, 0.0010],
    [0.6, 0.7, 0.8, 0.9, 1.0, 1.1, 1.2, 1.3, 1.4, 1.5],
    [-0.2, 0.0, 0.2, 0.4, 0.6, 0.8, 1.0],
    [0.2, 0.4, 0.6, 0.8, 1.0, 1.2, 1.4],
]
x_decimals = [1, 2, 1, 0, 1, 0, 1, 1, 3, 1, 1, 0, 0, 4, 1, 1, 1]
x_limits = [(1.2, 2.6), (0.20, 0.45), (85.5, 88.5), (200, 450), (-1.0, 2.5), (-3, 3),
            (-2.0, 1.0), (1.1, 1.8), (0.0007, 0.0061), (0.0, 1.8), (0.0, 1.8), (88, 433),
            (5150, 5450), (-0.00075, 0.0010), (0.6, 1.5), (-0.2, 1.0), (0.2, 1.4)]
summary = [(1.69, 1.87, 2.05), (0.306, 0.333, 0.360), (86.73, 87.2, 87.70), (288, 319, 354),
           (0.54, 0.96, 1.30), (-1.58, -0.66, 0.35), (-0.98, -0.50, -0.04), (1.355, 1.455, 1.555),
           (0.00295, 0.0035, 0.0041), (0.63, 0.92, 1.21), (0.64, 0.87, 1.09), (175, 245, 367),
           (5220, 5309, 5400), (-0.00017, 0.00007, 0.00034), (0.93, 1.045, 1.175),
           (0.30, 0.47, 0.65), (0.63, 0.78, 0.92)]
short_y = {8, 11}

y_ticks = [-453.0, -452.5, -452.0, -451.5, -451.0, -450.5, -450.0, -449.5]

for s in x_series:
    assert len(s) == len(lnL), len(s)

FONT = "DejaVu Sans"


def fmt(dec):
    return CustomJSTickFormatter(args=dict(d=dec), code="""
        var s = (Math.abs(tick) < 1e-12 ? 0 : tick).toFixed(d);
        return s.replace('-', '\\u2212');
    """)


blank = CustomJSTickFormatter(code="return '';")


def style_axis(ax, ticks, formatter, label=None):
    ax.ticker = FixedTicker(ticks=ticks)
    ax.formatter = formatter
    ax.major_tick_in = 4
    ax.major_tick_out = 0
    ax.major_tick_line_color = "black"
    ax.minor_tick_line_color = None
    ax.axis_line_color = "black"
    ax.major_label_text_font = FONT
    ax.major_label_text_font_size = "9.5px"
    ax.major_label_text_color = "black"
    ax.major_label_standoff = 2
    if label is not None:
        ax.axis_label = label
        ax.axis_label_text_font = FONT
        ax.axis_label_text_font_size = "11px"
        ax.axis_label_text_font_style = "normal"
        ax.axis_label_text_color = "black"
        ax.axis_label_standoff = 1


rows_of_figs = []
current = []
for i in range(len(x_series)):
    c = i % 4
    r = i // 4
    H = 121 if r == 4 else 122
    W = 300 if c == 0 else 296
    left = 52 if c == 0 else 49
    yr = (-452.62, -449.85) if i in short_y else (-453.0, -449.5)
    p = figure(width=W, height=H, output_backend="svg", toolbar_location=None, tools="",
               x_range=Range1d(*x_limits[i]), y_range=Range1d(*yr),
               min_border_left=left, min_border_right=10, min_border_top=4,
               min_border_bottom=H - 4 - 89)
    p.grid.visible = False
    p.outline_line_color = "black"
    p.outline_line_width = 1
    p.background_fill_color = "white"
    p.border_fill_color = "white"

    style_axis(p.xaxis[0], x_ticks[i], fmt(x_decimals[i]), x_labels[i])
    style_axis(p.yaxis[0], y_ticks, fmt(1), "ln(Likelihood)" if c == 0 else None)

    top = LinearAxis()
    style_axis(top, x_ticks[i], blank)
    top.major_label_standoff = 0
    p.add_layout(top, "above")
    right = LinearAxis()
    style_axis(right, y_ticks, blank)
    right.major_label_standoff = 0
    p.add_layout(right, "right")

    p.scatter(x_series[i], lnL, marker="circle", size=6, fill_color="#0c0cd0",
              line_color="black", line_width=0.6)

    lo, med, hi = summary[i]
    for v, dash in ((lo, "4 2"), (med, "solid"), (hi, "4 2")):
        p.add_layout(Span(location=v, dimension="height", line_color="red",
                          line_alpha=0.8, line_width=1.2, line_dash=dash))

    current.append(p)
    if len(current) == 4 or i == len(x_series) - 1:
        rows_of_figs.append(row(*current))
        current = []

layout = column(*rows_of_figs)
open("out.html", "w").write(file_html(layout, INLINE))
